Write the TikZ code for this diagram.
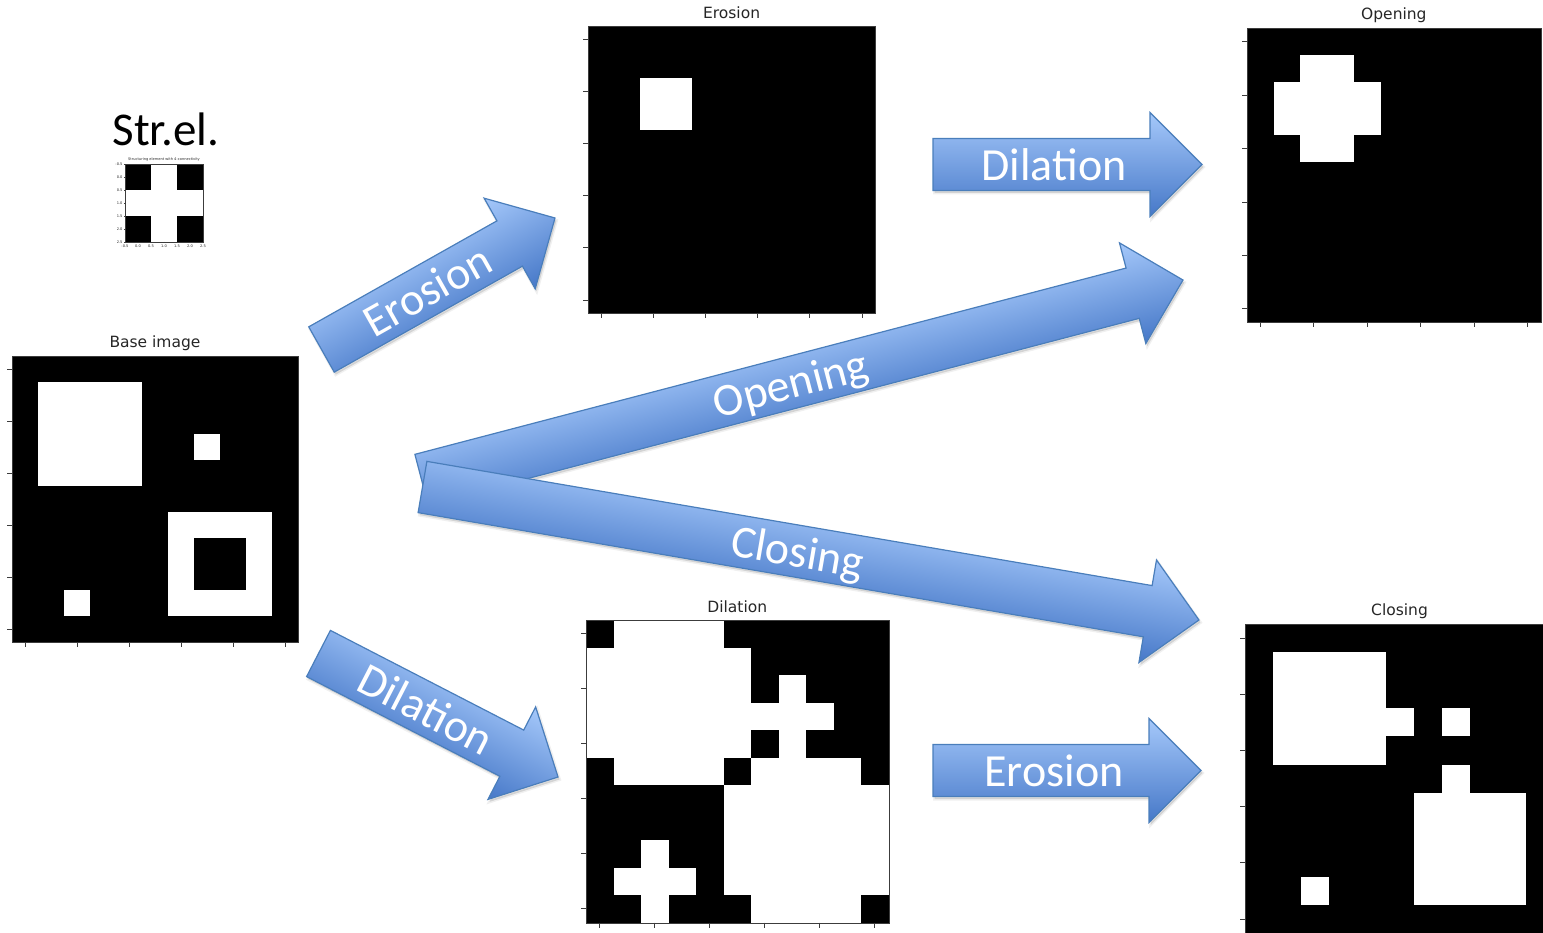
\documentclass[tikz,border=0pt]{standalone}
\usepackage{fontspec}
\setmainfont{Carlito}
\newfontfamily\djv{DejaVu Sans}
\usetikzlibrary{calc}
\definecolor{arrtop}{RGB}{165,200,250}
\definecolor{arrbot}{RGB}{70,120,200}
\definecolor{arrline}{RGB}{74,126,187}
\definecolor{framegray}{RGB}{60,60,60}
\definecolor{titlegray}{RGB}{38,38,38}
\tikzset{
  arrowbody/.style={top color=arrtop, bottom color=arrbot, draw=arrline, line width=1.2pt, line join=miter},
  arrowshadow/.style={fill=black, fill opacity=0.12, draw=black, draw opacity=0.06, line width=3pt},
  arrowtext/.style={text=white, font=\fontsize{46}{50}\selectfont, inner sep=0pt, anchor=base},
  plottitle/.style={text=titlegray, font=\djv\fontsize{15.5}{18}\selectfont, inner sep=0pt},
  frameline/.style={draw=framegray, line width=0.9pt},
  tickline/.style={draw=framegray, line width=0.9pt},
  tinylabel/.style={text=titlegray, font=\djv\fontsize{3.6}{4}\selectfont, inner sep=0.3pt},
}
% #1 name, #2 tail centre, #3 angle, #4 length, #5 text distance, #6 text
\newcommand\blockarrow[6]{%
  \begin{scope}[transform canvas={shift={#2}, xshift=1.5pt, yshift=-2.5pt, rotate=#3}]
    \path[arrowshadow] (0,-26) -- ({#4-52},-26) -- ({#4-52},-52) -- (#4,0) -- ({#4-52},52) -- ({#4-52},26) -- (0,26) -- cycle;
  \end{scope}
  \begin{scope}[transform canvas={shift={#2}, rotate=#3}]
    \shade[arrowbody] (0,-26) -- ({#4-52},-26) -- ({#4-52},-52) -- (#4,0) -- ({#4-52},52) -- ({#4-52},26) -- (0,26) -- cycle;
    \node[arrowtext] (#1) at (#5,16) {#6};
  \end{scope}}
% #1 name, #2 left, #3 top, #4 pixel size, #5 title, #6 cells
\newcommand\plotimg[6]{%
  \fill[black] (#2,#3) rectangle ({#2+11*#4},{#3+11*#4});
  \foreach \a/\b/\c/\d/\e in {#6} {\fill[\e] ({#2+\a*#4},{#3+\b*#4}) rectangle ({#2+\c*#4},{#3+\d*#4});}
  \node[frameline, anchor=north west, inner sep=0pt, minimum width=#4pt*11, minimum height=#4pt*11] (#1) at (#2,#3) {};
  \foreach \k in {0,...,5} {
    \draw[tickline] ({#2+(2*\k+0.5)*#4},{#3+11*#4}) -- ++(0,5);
    \draw[tickline] (#2,{#3+(2*\k+0.5)*#4}) -- ++(-5,0);
  }
  \node[plottitle] (#1title) at ({#2+5.5*#4},{#3-13}) {#5};
}
\begin{document}
\begin{tikzpicture}[x=1pt, y=-1pt]
\useasboundingbox (0,0) rectangle (1543,933);
\clip (0,0) rectangle (1543,933);

% images
\plotimg{base}{12}{356}{26}{Base image}{1/1/5/5/white, 7/3/8/4/white, 6/6/10/10/white, 7/7/9/9/black, 2/9/3/10/white}
\plotimg{ero}{588}{26}{26.1}{Erosion}{2/2/4/4/white}
\plotimg{open}{1247}{28.5}{26.7}{Opening}{2/1/4/5/white, 1/2/5/4/white}
\plotimg{dil}{586}{620}{27.5}{Dilation}{1/0/5/2/white, 0/1/6/5/white, 1/4/5/6/white, 7/2/8/5/white, 6/3/9/4/white, 5/6/11/10/white, 6/5/10/11/white, 2/8/3/11/white, 1/9/4/10/white}
\plotimg{clos}{1245}{624}{28.1}{Closing}{1/1/5/5/white, 4/3/6/4/white, 7/3/8/4/white, 7/5/8/7/white, 6/6/10/10/white, 2/9/3/10/white}

% structuring element
\node[font=\fontsize{47}{52}\selectfont, anchor=base, inner sep=0pt] (strel) at (166,146) {Str.el.};
\fill[white] (125,164) rectangle (203,242);
\foreach \a/\b in {0/0,2/0,0/2,2/2} {\fill[black] ({125+\a*26},{164+\b*26}) rectangle ++(26,26);}
\node[draw=framegray, line width=0.4pt, anchor=north west, inner sep=0pt, minimum size=78pt] (se) at (125,164) {};
\node[tinylabel] (setitle) at (164,160) {Structuring element with 4-connectivity};
\foreach \i/\v in {0/-0.5,1/0.0,2/0.5,3/1.0,4/1.5,5/2.0,6/2.5} {
  \draw[framegray, line width=0.3pt] (125,{164+\i*13}) -- ++(-1.5,0);
  \node[tinylabel, anchor=east] at (123,{164+\i*13}) {\v};
  \draw[framegray, line width=0.3pt] ({125+\i*13},242) -- ++(0,1.5);
  \node[tinylabel, anchor=north] at ({125+\i*13},244) {\v};
}

% arrows
\blockarrow{aEro}{(321.5,349.5)}{29.39}{268}{121}{Erosion}
\blockarrow{aDil}{(318.5,653.5)}{-27.28}{269.5}{121}{Dilation}
\blockarrow{aDilR}{(933,164.5)}{0}{269}{121}{Dilation}
\blockarrow{aEroR}{(933,770.5)}{0}{268}{121}{Erosion}
\blockarrow{aOpen}{(421.5,479.5)}{14.68}{787.2}{381}{Opening}
\blockarrow{aClos}{(422.5,487)}{-9.72}{787.8}{381}{Closing}
\end{tikzpicture}
\end{document}
